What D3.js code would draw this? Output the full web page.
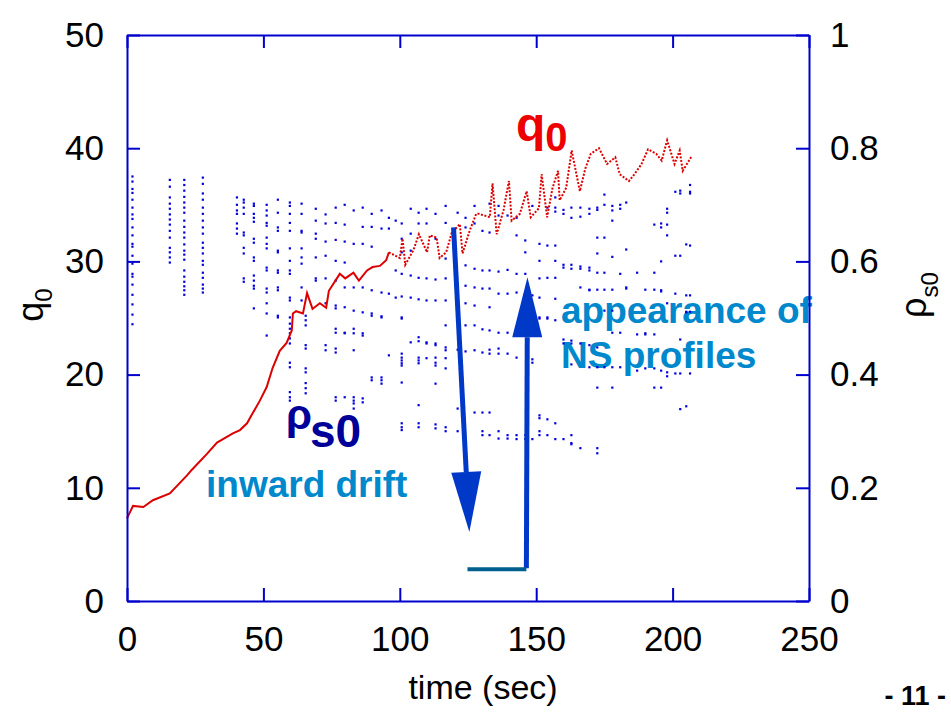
<!DOCTYPE html>
<html>
<head>
<meta charset="utf-8">
<script src="https://cdn.jsdelivr.net/npm/d3@7"></script>
<style>
  body { margin: 0; background: #fff; }
  svg { display: block; }
  .axis text { font: 35px "Liberation Sans", Arial, sans-serif; fill: #000; }
  .axis .domain, .axis line { stroke: #0000cc; stroke-width: 2; }
  .lbl { font-family: "Liberation Sans", Arial, sans-serif; }
</style>
</head>
<body>
<svg id="chart"></svg>
<script>
// Chart size and plot box
const WIDTH = 951;
const HEIGHT = 712;
const PLOT = { left: 127, right: 809, top: 35, bottom: 601 };
const Q_COLOR = "#dd0000";
const RHO_COLOR = "#0000dd";
const NOTE_COLOR = "#0088cc";
const ARROW_COLOR = "#0038c8";

// Tick values
const timeTicks = [0, 50, 100, 150, 200, 250];
const qTicks = [0, 10, 20, 30, 40, 50];
const rhoTicks = [0, 0.2, 0.4, 0.6, 0.8, 1];

// q0 trace (time in sec, q0)
const qTime = [0, 2.2, 6, 9.5, 15.7, 22, 23.8, 29.3, 33, 38.8, 41.4, 44, 46.1, 48.7, 51.2,
  53.4, 56, 58.5, 60.4, 60.8, 62, 64.5, 66, 68, 70.7, 73, 74, 78, 80, 83, 85, 88, 90, 92.7,
  95, 96, 100, 101, 102, 105, 107, 110, 111, 113.5, 114.6, 117, 119, 122, 123, 125.6, 128,
  129, 133, 134, 135.5, 138, 140, 141, 144, 146.5, 148, 151, 152, 154, 156, 158, 158.6, 161,
  163, 166, 168, 170, 173, 176, 179, 180.6, 184, 186, 188.6, 191, 194, 196, 198, 200.7,
  202.6, 203.7, 206, 207];
const qValue = [7.3, 8.4, 8.3, 8.9, 9.5, 11.1, 11.6, 13.0, 14.0, 14.8, 15.1, 15.7, 16.6, 17.7,
  18.9, 20.6, 22.1, 22.8, 23.9, 25.4, 25.6, 25.4, 27.2, 25.8, 26.3, 25.9, 27.4, 28.9, 28.5,
  29.0, 28.3, 29.2, 29.5, 29.6, 30.1, 30.8, 30.3, 32.0, 29.7, 31.0, 32.4, 30.8, 32.3, 32.1,
  30.3, 30.8, 32.5, 33.3, 30.7, 32.7, 34.2, 34.2, 33.9, 36.9, 32.4, 34.5, 37.1, 33.6, 34.2,
  36.2, 33.9, 34.7, 37.7, 33.9, 36.5, 38.0, 35.4, 36.5, 39.8, 36.2, 38.2, 39.5, 40.0, 38.6,
  39.2, 37.7, 37.1, 37.7, 38.6, 39.9, 39.5, 38.9, 40.7, 38.6, 39.8, 38.0, 38.9, 39.3];
const Q_SOLID_UNTIL = 96;

// rho_s0 samples: one time per column, several rho values each
const rhoTime = [2, 15.7, 21, 27.8, 40.3, 42.8, 46.5, 51.2, 55.3, 59.7, 64, 65.5, 69.2, 72.8,
  76.5, 79.8, 83.1, 86.4, 89.7, 93.3, 96, 98.5, 100.7, 104, 106.9, 109.8, 113.1, 116.8,
  121.2, 124.1, 127.4, 130.3, 132.9, 136.2, 139.5, 142.8, 146, 148.6, 151.2, 154.1, 157,
  160, 162.9, 166.2, 169.5, 172.4, 175, 177.9, 180.8, 183, 187, 190, 193.3, 195.8, 198,
  201, 202.8, 205, 206.4];
const rhoValues = [
  [0.750, 0.741, 0.728, 0.721, 0.709, 0.695, 0.683, 0.675, 0.660, 0.646, 0.631, 0.626, 0.610, 0.596, 0.578, 0.573, 0.559, 0.541, 0.524, 0.506, 0.489],
  [0.744, 0.732, 0.713, 0.702, 0.693, 0.683, 0.674, 0.665, 0.654, 0.642, 0.624, 0.616, 0.607, 0.598],
  [0.744, 0.735, 0.725, 0.714, 0.704, 0.695, 0.686, 0.672, 0.661, 0.651, 0.642, 0.630, 0.619, 0.612, 0.603, 0.584, 0.573, 0.564, 0.556, 0.549, 0.541],
  [0.748, 0.737, 0.720, 0.709, 0.695, 0.684, 0.672, 0.660, 0.649, 0.633, 0.624, 0.614, 0.601, 0.594, 0.580, 0.571, 0.559, 0.552, 0.545],
  [0.713, 0.700, 0.690, 0.684, 0.667, 0.658, 0.649],
  [0.709, 0.704, 0.695, 0.684, 0.651, 0.646, 0.624, 0.614, 0.570, 0.564],
  [0.702, 0.698, 0.684, 0.677, 0.670, 0.640, 0.633, 0.607, 0.601, 0.575, 0.566, 0.557, 0.552, 0.517],
  [0.700, 0.690, 0.681, 0.668, 0.663, 0.642, 0.631, 0.623, 0.589, 0.584, 0.552, 0.545, 0.526, 0.508, 0.469],
  [0.709, 0.686, 0.660, 0.654, 0.619, 0.616, 0.584, 0.580, 0.554, 0.549, 0.504, 0.501],
  [0.704, 0.698, 0.684, 0.668, 0.654, 0.623, 0.601, 0.584, 0.578, 0.536, 0.531, 0.501, 0.490, 0.481, 0.473, 0.464, 0.455, 0.421, 0.413, 0.369, 0.360, 0.354],
  [0.702, 0.684, 0.654, 0.651, 0.623, 0.607, 0.596, 0.554, 0.531],
  [0.504, 0.496, 0.487, 0.452, 0.446, 0.411, 0.404, 0.385, 0.376, 0.367],
  [0.693, 0.672, 0.649, 0.640, 0.607, 0.570, 0.566],
  [0.683, 0.667, 0.635, 0.610, 0.570, 0.526, 0.452, 0.443],
  [0.695, 0.668, 0.638, 0.601, 0.566, 0.522, 0.517, 0.481, 0.474, 0.446, 0.439, 0.360, 0.354],
  [0.700, 0.665, 0.635, 0.598, 0.554, 0.519, 0.474, 0.473, 0.360],
  [0.690, 0.631, 0.554, 0.513, 0.481, 0.473, 0.443, 0.360, 0.354, 0.349, 0.340],
  [0.695, 0.661, 0.631, 0.554, 0.510, 0.473, 0.469, 0.358, 0.351],
  [0.684, 0.661, 0.626, 0.549, 0.508, 0.504, 0.395, 0.390],
  [0.690, 0.658, 0.545, 0.503, 0.501, 0.395, 0.390, 0.384],
  [0.677, 0.658, 0.543, 0.434],
  [0.672, 0.584, 0.536],
  [0.667, 0.640, 0.616, 0.578, 0.538, 0.501, 0.499, 0.437, 0.430, 0.425, 0.420, 0.416, 0.386, 0.314, 0.307, 0.302],
  [0.693, 0.649, 0.619, 0.575, 0.536, 0.457],
  [0.686, 0.667, 0.571, 0.533, 0.466, 0.459, 0.430, 0.425, 0.420, 0.346, 0.314, 0.307],
  [0.693, 0.667, 0.570, 0.531, 0.457, 0.455, 0.429],
  [0.684, 0.640, 0.568, 0.531, 0.455, 0.452, 0.430, 0.421, 0.416, 0.384, 0.312, 0.305],
  [0.698, 0.668, 0.605, 0.570, 0.531, 0.487, 0.448, 0.443, 0.429, 0.411, 0.307, 0.300],
  [0.686, 0.444, 0.340, 0.300],
  [0.677, 0.660, 0.593, 0.557, 0.526, 0.487, 0.441],
  [0.698, 0.667, 0.587, 0.554, 0.522, 0.487, 0.443, 0.333],
  [0.654, 0.584, 0.552, 0.480, 0.439, 0.333, 0.300, 0.293],
  [0.702, 0.651, 0.584, 0.552, 0.519, 0.478, 0.444, 0.437, 0.333, 0.293],
  [0.698, 0.681, 0.582, 0.543, 0.474, 0.446, 0.437, 0.300, 0.287],
  [0.681, 0.585, 0.543, 0.474, 0.437, 0.293, 0.287],
  [0.677, 0.646, 0.578, 0.545, 0.471, 0.430, 0.293, 0.286],
  [0.637, 0.616, 0.578, 0.293, 0.286],
  [0.698, 0.540, 0.427, 0.421, 0.286],
  [0.631, 0.601, 0.570, 0.536, 0.501, 0.499, 0.328, 0.323, 0.300, 0.293],
  [0.695, 0.628, 0.571, 0.501, 0.499, 0.321, 0.293],
  [0.713, 0.695, 0.688, 0.628, 0.601, 0.571, 0.534, 0.496, 0.314, 0.286],
  [0.691, 0.684, 0.594, 0.589, 0.462, 0.455, 0.286],
  [0.695, 0.677, 0.594, 0.587, 0.460, 0.455, 0.418, 0.293, 0.279, 0.277],
  [0.695, 0.679, 0.591, 0.587, 0.554, 0.455, 0.270],
  [0.693, 0.684, 0.589, 0.584, 0.550, 0.549, 0.452, 0.413],
  [0.695, 0.691, 0.642, 0.614, 0.580, 0.550, 0.448, 0.413, 0.377, 0.270, 0.261],
  [0.718, 0.700, 0.642, 0.580, 0.550, 0.513, 0.413],
  [0.698, 0.690, 0.672, 0.608, 0.550, 0.513, 0.474, 0.413, 0.377],
  [0.700, 0.693, 0.578, 0.474, 0.413],
  [0.704, 0.621, 0.554, 0.552],
  [0.580, 0.471, 0.407],
  [0.550, 0.473, 0.471, 0.411],
  [0.665, 0.580, 0.550, 0.471, 0.411, 0.377],
  [0.667, 0.660, 0.600, 0.549, 0.547, 0.407, 0.377],
  [0.693, 0.686, 0.665, 0.646, 0.526, 0.404, 0.397],
  [0.723, 0.610, 0.543, 0.402],
  [0.725, 0.720, 0.610, 0.462, 0.402, 0.339],
  [0.630, 0.540, 0.511, 0.510, 0.344],
  [0.735, 0.723, 0.720, 0.628, 0.540, 0.511, 0.402]
];

// Annotation arrows in data units (time, q0)
const downArrow = { from: [119.7, 33.0], to: [125.5, 6.1] };
const upArrow = { from: [146.4, 2.9], to: [146.8, 28.6] };
const baseLine = { from: [124.8, 2.8], to: [146.4, 2.8] };

function drawChart() {
    const svg = d3.select("#chart")
        .attr("width", WIDTH)
        .attr("height", HEIGHT)
        .attr("viewBox", [0, 0, WIDTH, HEIGHT]);

    const x = d3.scaleLinear([0, 250], [PLOT.left, PLOT.right]);
    const yQ = d3.scaleLinear([0, 50], [PLOT.bottom, PLOT.top]);
    const yRho = d3.scaleLinear([0, 1], [PLOT.bottom, PLOT.top]);

    // Annotation texts sit under the data dots
    addNotes(svg);

    // rho_s0 dots
    const dots = rhoTime.flatMap((t, i) => rhoValues[i].map(r => [t, r]));
    svg.append("g")
        .selectAll("rect")
        .data(dots)
        .join("rect")
        .attr("x", d => x(d[0]) - 1.1)
        .attr("y", d => yRho(d[1]) - 1.1)
        .attr("width", 2.2)
        .attr("height", 2.2)
        .attr("fill", RHO_COLOR);

    // q0 trace: solid early, dotted later
    const qPts = qTime.map((t, i) => [t, qValue[i]]);
    const line = d3.line().x(d => x(d[0])).y(d => yQ(d[1]));
    const cut = qPts.findIndex(d => d[0] >= Q_SOLID_UNTIL);
    svg.append("path")
        .attr("d", line(qPts.slice(0, cut + 1)))
        .attr("fill", "none")
        .attr("stroke", Q_COLOR)
        .attr("stroke-width", 2);
    svg.append("path")
        .attr("d", line(qPts.slice(cut)))
        .attr("fill", "none")
        .attr("stroke", Q_COLOR)
        .attr("stroke-width", 2)
        .attr("stroke-dasharray", "2 1.6");

    // Axes with inward ticks
    const fmt = d => String(+d.toFixed(1));
    svg.append("g").attr("class", "axis")
        .attr("transform", `translate(${PLOT.left},0)`)
        .call(d3.axisLeft(yQ).tickValues(qTicks).tickSize(-13).tickSizeOuter(0).tickPadding(23));
    svg.append("g").attr("class", "axis")
        .attr("transform", `translate(${PLOT.right},0)`)
        .call(d3.axisRight(yRho).tickValues(rhoTicks).tickFormat(fmt).tickSize(-13).tickSizeOuter(0).tickPadding(21));
    svg.append("g").attr("class", "axis")
        .attr("transform", `translate(0,${PLOT.bottom})`)
        .call(d3.axisBottom(x).tickValues(timeTicks).tickSize(-13).tickSizeOuter(0).tickPadding(25));
    svg.append("g").attr("class", "axis")
        .attr("transform", `translate(0,${PLOT.top})`)
        .call(d3.axisTop(x).tickValues(timeTicks).tickFormat("").tickSize(-13).tickSizeOuter(0));

    // Axis titles
    const qTitle = svg.append("text").attr("class", "lbl")
        .attr("transform", "translate(43,305) rotate(-90)")
        .attr("text-anchor", "middle").attr("font-size", 36);
    qTitle.append("tspan").text("q");
    qTitle.append("tspan").attr("font-size", 24).attr("dy", 9).text("0");

    const rhoTitle = svg.append("text").attr("class", "lbl")
        .attr("transform", "translate(926,295) rotate(-90)")
        .attr("text-anchor", "middle").attr("font-size", 36);
    rhoTitle.append("tspan").text("\u03c1");
    rhoTitle.append("tspan").attr("font-size", 24).attr("dy", 12).text("s0");

    svg.append("text").attr("class", "lbl")
        .attr("x", 483).attr("y", 699)
        .attr("text-anchor", "middle").attr("font-size", 34)
        .text("time (sec)");

    svg.append("text").attr("class", "lbl")
        .attr("x", 946).attr("y", 705)
        .attr("text-anchor", "end").attr("font-size", 27).attr("font-weight", "bold")
        .text("- 11 -");

    // Arrows on top
    drawArrow(svg, downArrow, x, yQ);
    drawArrow(svg, upArrow, x, yQ);
    svg.append("line")
        .attr("x1", x(baseLine.from[0])).attr("y1", yQ(baseLine.from[1]))
        .attr("x2", x(baseLine.to[0])).attr("y2", yQ(baseLine.to[1]))
        .attr("stroke", "#005f8f").attr("stroke-width", 4);
}

// Shaft plus filled triangular head
function drawArrow(svg, arrow, x, y) {
    const x0 = x(arrow.from[0]), y0 = y(arrow.from[1]);
    const x1 = x(arrow.to[0]), y1 = y(arrow.to[1]);
    const len = Math.hypot(x1 - x0, y1 - y0);
    const ux = (x1 - x0) / len, uy = (y1 - y0) / len;
    const headLen = 60, headHalf = 15;
    const bx = x1 - ux * headLen, by = y1 - uy * headLen;
    svg.append("line")
        .attr("x1", x0).attr("y1", y0).attr("x2", bx).attr("y2", by)
        .attr("stroke", ARROW_COLOR).attr("stroke-width", 5);
    svg.append("path")
        .attr("d", `M${x1},${y1}L${bx - uy * headHalf},${by + ux * headHalf}L${bx + uy * headHalf},${by - ux * headHalf}Z`)
        .attr("fill", ARROW_COLOR);
}

// Coloured annotation labels
function addNotes(svg) {
    const q0 = svg.append("text").attr("class", "lbl")
        .attr("x", 516).attr("y", 141)
        .attr("fill", "#ee0000").attr("font-weight", "bold").attr("font-size", 48);
    q0.append("tspan").text("q");
    q0.append("tspan").attr("font-size", 40).attr("dy", 10).text("0");

    svg.append("text").attr("class", "lbl")
        .attr("x", 286).attr("y", 429)
        .attr("fill", "#000099").attr("font-weight", "bold").attr("font-size", 42)
        .text("\u03c1");
    svg.append("text").attr("class", "lbl")
        .attr("x", 310).attr("y", 447)
        .attr("fill", "#000099").attr("font-weight", "bold").attr("font-size", 46)
        .text("s0");

    const notes = [
        { text: "inward drift", x: 206, y: 497 },
        { text: "appearance of", x: 561, y: 323 },
        { text: "NS profiles", x: 561, y: 368 }
    ];
    svg.append("g").selectAll("text")
        .data(notes)
        .join("text")
        .attr("class", "lbl")
        .attr("x", d => d.x).attr("y", d => d.y)
        .attr("fill", NOTE_COLOR).attr("font-weight", "bold").attr("font-size", 37)
        .text(d => d.text);
}

drawChart();
</script>
</body>
</html>
